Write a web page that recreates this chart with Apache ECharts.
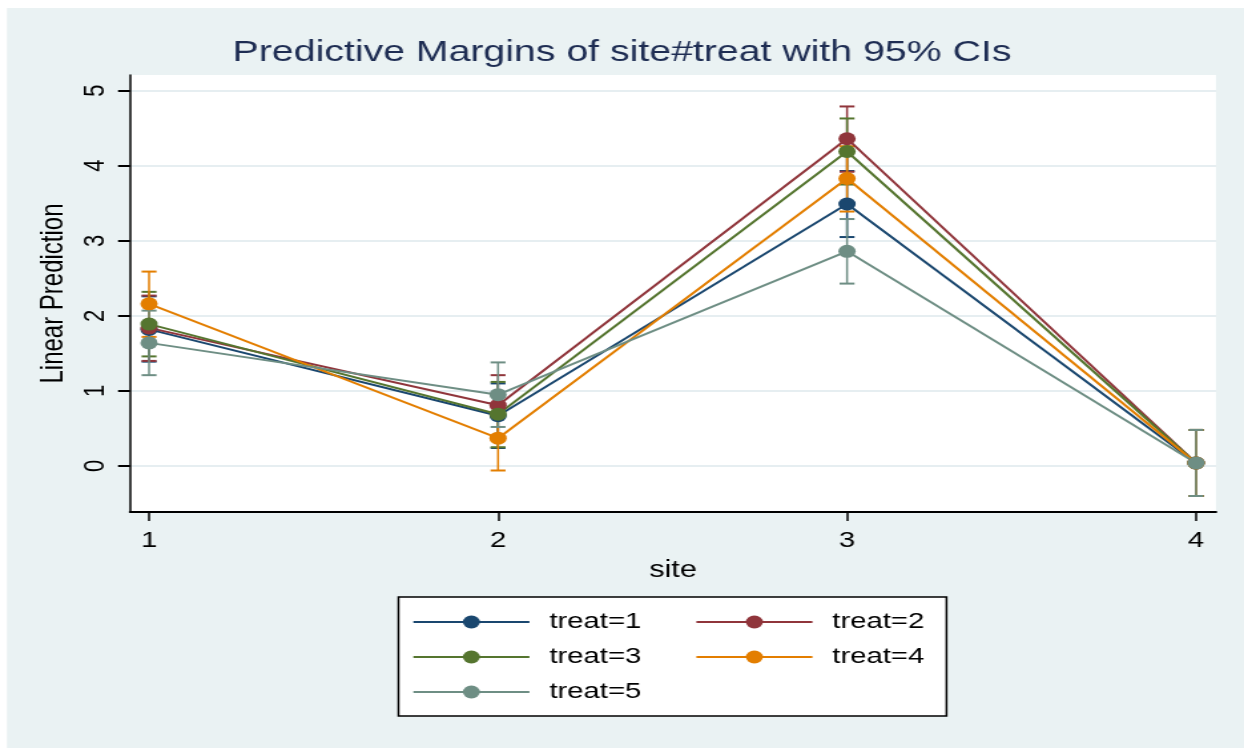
<!DOCTYPE html>
<html>
<head>
<meta charset="utf-8">
<script src="https://cdn.jsdelivr.net/npm/echarts@6/dist/echarts.min.js"></script>
<style>
html,body{margin:0;padding:0;background:#fff;overflow:hidden;}
#chart{width:935px;height:748px;transform:scaleX(1.3305);transform-origin:0 0;}
</style>
</head>
<body>
<div id="chart"></div>
<script>
// ---- data ----
const sites = [1, 2, 3, 4];
const xTicks = [1, 2, 3, 4];
const yTicks = [0, 1, 2, 3, 4, 5];
const seriesNames = ['treat=1', 'treat=2', 'treat=3', 'treat=4', 'treat=5'];

const treat1 = [1.82, 0.67, 3.49, 0.04];
const treat2 = [1.84, 0.81, 4.36, 0.04];
const treat3 = [1.89, 0.69, 4.19, 0.04];
const treat4 = [2.16, 0.37, 3.83, 0.04];
const treat5 = [1.64, 0.95, 2.86, 0.04];

const lower1 = [1.39, 0.24, 3.05, -0.40];
const upper1 = [2.26, 1.10, 3.93, 0.48];
const lower2 = [1.40, 0.38, 3.92, -0.40];
const upper2 = [2.27, 1.21, 4.79, 0.48];
const lower3 = [1.46, 0.25, 3.75, -0.40];
const upper3 = [2.32, 1.12, 4.63, 0.48];
const lower4 = [1.72, -0.06, 3.39, -0.40];
const upper4 = [2.59, 0.80, 4.26, 0.48];
const lower5 = [1.21, 0.52, 2.43, -0.40];
const upper5 = [2.07, 1.38, 3.29, 0.48];

// ---- styling ----
const colors = ['#1a476f', '#90353b', '#55752f', '#e37e00', '#6e8e84'];
const FONT = 'Liberation Sans, Arial, Helvetica, sans-serif';
const means = [treat1, treat2, treat3, treat4, treat5];
const lowers = [lower1, lower2, lower3, lower4, lower5];
const uppers = [upper1, upper2, upper3, upper4, upper5];

const series = [];
// error bars (drawn first)
means.forEach((m, i) => {
  series.push({
    type: 'custom',
    name: seriesNames[i] + ' CI',
    z: 2,
    encode: { x: 0, y: [1, 2] },
    data: sites.map((s, k) => [s, lowers[i][k], uppers[i][k]]),
    renderItem: function (params, api) {
      const x = api.value(0);
      const lo = api.coord([x, api.value(1)]);
      const hi = api.coord([x, api.value(2)]);
      const hw = 5.6;
      const vst = { stroke: colors[i], lineWidth: 1.5 };
      const cst = { stroke: colors[i], lineWidth: 2 };
      return {
        type: 'group',
        children: [
          { type: 'line', shape: { x1: lo[0], y1: lo[1], x2: hi[0], y2: hi[1] }, style: vst },
          { type: 'line', shape: { x1: lo[0] - hw, y1: lo[1], x2: lo[0] + hw, y2: lo[1] }, style: cst },
          { type: 'line', shape: { x1: hi[0] - hw, y1: hi[1], x2: hi[0] + hw, y2: hi[1] }, style: cst }
        ]
      };
    },
    silent: true
  });
});
// connected lines with markers
means.forEach((m, i) => {
  series.push({
    type: 'line',
    name: seriesNames[i],
    z: 3,
    data: sites.map((s, k) => [s, m[k]]),
    symbol: 'circle',
    symbolSize: 13,
    showSymbol: true,
    lineStyle: { color: colors[i], width: 2 },
    itemStyle: { color: colors[i] },
    emphasis: { disabled: true }
  });
});

const legendCommon = {
  orient: 'vertical',
  padding: 0,
  itemWidth: 87.2,
  itemHeight: 16,
  itemGap: 13,
  selectedMode: false,
  z: 6,
  textStyle: { fontFamily: FONT, fontSize: 22, color: '#000', lineHeight: 22, padding: [0, 0, 0, 10] }
};

const option = {
  backgroundColor: '#EAF2F3',
  animation: false,
  color: colors,
  title: {
    text: 'Predictive Margins of site#treat with 95% CIs',
    left: 'center',
    top: 38,
    padding: [0, 0, 0, 16],
    textStyle: { fontFamily: FONT, fontSize: 29.5, fontWeight: 'normal', color: '#1E2D53' }
  },
  graphic: [
    { type: 'rect', z: 100, shape: { x: 0, y: 0, width: 935, height: 8 }, style: { fill: '#fff' }, silent: true },
    { type: 'rect', z: 100, shape: { x: 0, y: 0, width: 5.26, height: 748 }, style: { fill: '#fff' }, silent: true },
    { type: 'rect', z: 1, shape: { x: 299.5, y: 597, width: 411.9, height: 119 }, style: { fill: '#fff', stroke: '#000', lineWidth: 1.5 }, silent: true }
  ],
  legend: [
    Object.assign({}, legendCommon, { left: 309.7, top: 611, data: ['treat=1', 'treat=3', 'treat=5'] }),
    Object.assign({}, legendCommon, { left: 522.4, top: 611, data: ['treat=2', 'treat=4'] })
  ],
  grid: {
    left: 97.74, top: 75, right: 21.05, bottom: 236,
    show: true, backgroundColor: '#fff', borderWidth: 0,
    containLabel: false
  },
  xAxis: {
    type: 'value',
    min: 0.9456,
    max: 4.0573,
    name: 'site',
    nameLocation: 'middle',
    nameGap: 47,
    nameTextStyle: { fontFamily: FONT, fontSize: 23, color: '#000' },
    axisLine: { show: true, onZero: false, lineStyle: { color: '#000', width: 2 } },
    axisTick: { show: true, length: 9, customValues: xTicks, lineStyle: { color: '#000', width: 1.5 } },
    axisLabel: { customValues: xTicks, fontFamily: FONT, fontSize: 22, color: '#000', margin: 18 },
    splitLine: { show: false }
  },
  yAxis: {
    type: 'value',
    min: -0.613,
    max: 5.209,
    name: 'Linear Prediction',
    nameLocation: 'middle',
    nameRotate: 90,
    nameGap: 35,
    nameTextStyle: { fontFamily: FONT, fontSize: 24, color: '#000' },
    axisLine: { show: true, onZero: false, lineStyle: { color: '#000', width: 1.5 } },
    axisTick: { show: true, length: 9, customValues: yTicks, lineStyle: { color: '#000', width: 2 } },
    axisLabel: { customValues: yTicks, rotate: 90, fontFamily: FONT, fontSize: 22, color: '#000', margin: 15 },
    splitLine: { show: true, lineStyle: { color: '#E6EEF1', width: 2 } }
  },
  series: series
};

const chart = echarts.init(document.getElementById('chart'), null, { renderer: 'canvas' });
chart.setOption(option);
</script>
</body>
</html>
